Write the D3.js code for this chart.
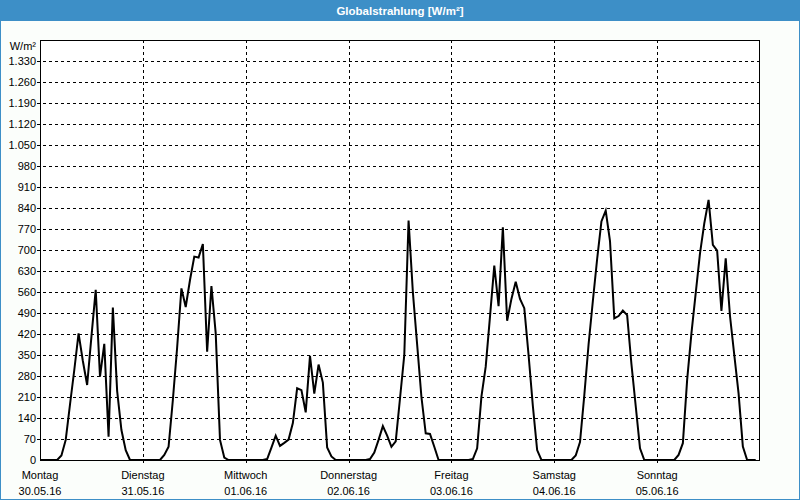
<!DOCTYPE html>
<html><head><meta charset="utf-8">
<script src="https://cdn.jsdelivr.net/npm/d3@7"></script>
<style>body{margin:0;background:#fff}svg{display:block}</style>
</head><body><svg id="c" width="800" height="500"></svg>
<script>
const title = "Globalstrahlung [W/m²]";
const unitLabel = "W/m²";
const dayNames = ["Montag","Dienstag","Mittwoch","Donnerstag","Freitag","Samstag","Sonntag"];
const dayDates = ["30.05.16","31.05.16","01.06.16","02.06.16","03.06.16","04.06.16","05.06.16"];
const yTicks = [0,70,140,210,280,350,420,490,560,630,700,770,840,910,980,1050,1120,1190,1260,1330];
// hourly values per day (W/m²)
const mon = [0,0,0,0,0,15,67,185,300,422,330,250,411,567,278,387,78,508,230,100,33,0,0,0];
const tue = [0,0,0,0,0,17,44,200,375,572,510,600,678,675,720,361,580,422,67,8,0,0,0,0];
const wed = [0,0,0,0,0,3,41,81,47,57,68,123,239,233,159,347,221,318,258,42,12,0,0,0];
const thu = [0,0,0,0,0,3,25,67,113,81,44,62,205,350,798,560,385,210,89,87,44,0,0,0];
const fri = [0,0,0,0,0,3,39,211,311,478,648,513,776,464,537,594,537,506,350,180,33,0,0,0];
const sat = [0,0,0,0,0,15,60,215,385,530,670,795,831,730,472,480,498,483,320,180,39,0,0,0];
const sun = [0,0,0,0,0,17,56,267,422,556,689,789,867,717,698,497,672,480,350,222,45,0,0,0];
const values = [].concat(mon, tue, wed, thu, fri, sat, sun);

const svg = d3.select("#c");
const W = 800, H = 500;
const blue = "#3d8fc7";
const pL = 40, pR = 760, pT = 40, pB = 460;
const x = d3.scaleLinear().domain([0, 168]).range([pL, pR]);
const y = d3.scaleLinear().domain([0, 1400]).range([pB, pT]);
const fmt = d3.formatLocale({decimal: ",", thousands: ".", grouping: [3], currency: ["", "€"]}).format(",d");
const font = "'Liberation Sans', Arial, sans-serif";

// background
svg.append("rect").attr("x",0).attr("y",0).attr("width",W).attr("height",H).attr("fill","#fbfefb");
// title bar
svg.append("rect").attr("x",0).attr("y",0).attr("width",W).attr("height",21).attr("fill",blue);
svg.append("text").attr("x",W/2).attr("y",14.5).attr("text-anchor","middle")
  .attr("font-family",font).attr("font-size",11.5).attr("font-weight","bold").attr("fill","#fff").text(title);
// page border
svg.append("rect").attr("x",0.5).attr("y",0.5).attr("width",W-1).attr("height",H-1)
  .attr("fill","none").attr("stroke",blue).attr("stroke-width",1);

// plot background
svg.append("rect").attr("x",pL).attr("y",pT).attr("width",pR-pL).attr("height",pB-pT).attr("fill","#fff");

// horizontal grid
const g = svg.append("g");
yTicks.filter(v => v > 0).forEach(v => {
  const yy = Math.round(y(v)) + 0.5;
  g.append("line").attr("x1",pL-3).attr("x2",pR).attr("y1",yy).attr("y2",yy)
    .attr("stroke","#000").attr("stroke-width",1).attr("stroke-dasharray","3,3");
});
// vertical grid (day boundaries)
dayNames.forEach((d,i) => {
  if (i === 0) return;
  const xx = Math.round(x(i*24)) + 0.5;
  g.append("line").attr("x1",xx).attr("x2",xx).attr("y1",pT).attr("y2",pB+3)
    .attr("stroke","#000").attr("stroke-width",1).attr("stroke-dasharray","3,3");
});

// frame
svg.append("rect").attr("x",pL+0.5).attr("y",pT+0.5).attr("width",pR-pL-1).attr("height",pB-pT)
  .attr("fill","none").attr("stroke","#000").attr("stroke-width",1);

// y labels
yTicks.forEach(v => {
  svg.append("text").attr("x",36).attr("y",Math.round(y(v))+4).attr("text-anchor","end")
    .attr("font-family",font).attr("font-size",11).attr("fill","#000").text(fmt(v));
});
svg.append("text").attr("x",36).attr("y",50).attr("text-anchor","end")
  .attr("font-family",font).attr("font-size",11).attr("fill","#000").text(unitLabel);

// x labels
dayNames.forEach((d,i) => {
  const xx = x(i*24);
  svg.append("text").attr("x",xx).attr("y",479).attr("text-anchor","middle")
    .attr("font-family",font).attr("font-size",11).attr("fill","#000").text(d);
  svg.append("text").attr("x",xx).attr("y",495).attr("text-anchor","middle")
    .attr("font-family",font).attr("font-size",11).attr("fill","#000").text(dayDates[i]);
});

// line
const line = d3.line().x((d,i) => x(i)).y(d => y(d));
svg.append("path").datum(values).attr("d", line).attr("fill","none")
  .attr("stroke","#000").attr("stroke-width",2).attr("stroke-linejoin","miter");
</script></body></html>
